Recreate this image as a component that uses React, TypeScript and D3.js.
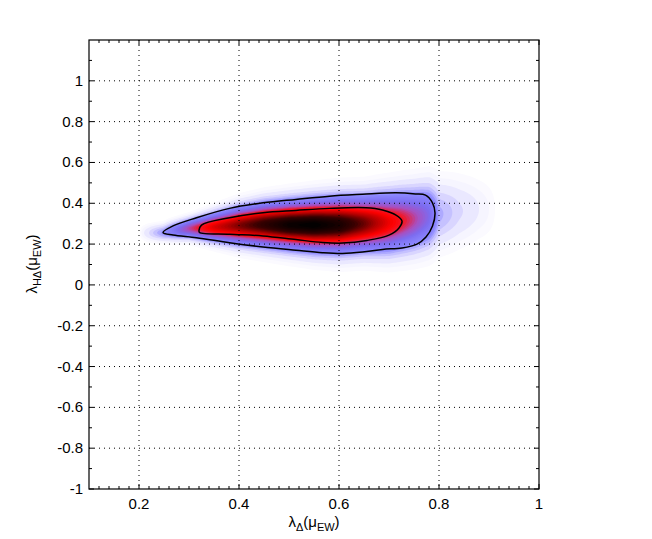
import { useEffect, useRef } from 'react';
import * as d3 from 'd3';

const xTicks = [0.2, 0.4, 0.6, 0.8, 1];
const yTicks = [-1, -0.8, -0.6, -0.4, -0.2, 0, 0.2, 0.4, 0.6, 0.8, 1];

// density ridge, read at stations along x
const ridgeX = [0.2, 0.22, 0.248, 0.26, 0.3, 0.35, 0.4, 0.45, 0.5, 0.55, 0.6, 0.65, 0.7, 0.75, 0.78, 0.8, 0.84, 0.88, 0.92];
const ridgeCenter = [0.255, 0.255, 0.256, 0.262, 0.276, 0.283, 0.291, 0.295, 0.294, 0.293, 0.294, 0.3, 0.306, 0.322, 0.337, 0.345, 0.36, 0.37, 0.37];
const ridgeSigma = [0.02, 0.022, 0.022, 0.024, 0.027, 0.038, 0.049, 0.056, 0.061, 0.066, 0.07, 0.071, 0.078, 0.082, 0.085, 0.085, 0.085, 0.08, 0.08];
const ridgePeak = [0, 0.04, 0.11, 0.15, 0.36, 0.58, 0.73, 0.86, 0.97, 1, 0.93, 0.76, 0.55, 0.37, 0.25, 0.09, 0.045, 0.02, 0];

// 95% and 68% contours
const outerContour = [
  [0.248, 0.256], [0.268, 0.289], [0.315, 0.329], [0.381, 0.375], [0.448, 0.402], [0.514, 0.419],
  [0.581, 0.435], [0.647, 0.444], [0.714, 0.451], [0.753, 0.446], [0.773, 0.44], [0.787, 0.402],
  [0.792, 0.352], [0.787, 0.289], [0.774, 0.235], [0.756, 0.2], [0.726, 0.181], [0.687, 0.174],
  [0.647, 0.161], [0.607, 0.154], [0.567, 0.158], [0.514, 0.17], [0.448, 0.186], [0.381, 0.207],
  [0.315, 0.231], [0.268, 0.244]
];
const innerContour = [
  [0.32, 0.267], [0.325, 0.293], [0.381, 0.329], [0.448, 0.354], [0.514, 0.365], [0.581, 0.375],
  [0.654, 0.378], [0.687, 0.367], [0.714, 0.342], [0.726, 0.313], [0.72, 0.279], [0.7, 0.244],
  [0.656, 0.218], [0.607, 0.205], [0.567, 0.208], [0.514, 0.222], [0.448, 0.24], [0.381, 0.248],
  [0.321, 0.257]
];

const colorStops = [0, 0.02, 0.06, 0.12, 0.24, 0.34, 0.44, 0.52, 0.66, 0.82, 1];
const colorValues = ['#ffffff', '#f3f1ff', '#d0ccff', '#8c88ff', '#7c6cf0', '#a850c0', '#f01828', '#ff0000', '#b00000', '#3a0000', '#000000'];

const FONT = '"Liberation Sans", Arial, Helvetica, sans-serif';

const App = () => {
  const svgRef = useRef(null);

  useEffect(() => {
    const width = 652;
    const height = 539;
    const svg = d3.select(svgRef.current);
    svg.selectAll('*').remove();
    svg.attr('width', width).attr('height', height);

    const x = d3.scaleLinear().domain([0.1, 1]).range([89, 539]);
    const y = d3.scaleLinear().domain([-1, 1.2]).range([489, 40]);

    const center = d3.scaleLinear().domain(ridgeX).range(ridgeCenter).clamp(true);
    const sigma = d3.scaleLinear().domain(ridgeX).range(ridgeSigma).clamp(true);
    const peak = d3.scaleLinear().domain(ridgeX).range(ridgePeak).clamp(true);

    const color = d3.scaleLinear<string>().domain(colorStops).range(colorValues).interpolate(d3.interpolateRgb);

    // density raster
    const cell = 1.5;
    const px0 = 120, py0 = 140;
    const nx = Math.round((500 - px0) / cell);
    const ny = Math.round((290 - py0) / cell);
    const values = new Array(nx * ny);
    for (let j = 0; j < ny; j++) {
      const vy = y.invert(py0 + (j + 0.5) * cell);
      for (let i = 0; i < nx; i++) {
        const vx = x.invert(px0 + (i + 0.5) * cell);
        const d = (vy - center(vx)) / sigma(vx);
        values[j * nx + i] = peak(vx) * Math.exp(-0.5 * d * d);
      }
    }

    const thresholds = [0.004, 0.01].concat(d3.range(0.02, 1, 0.02));
    const bands = d3.contours().size([nx, ny]).thresholds(thresholds)(values);
    const proj = d3.geoTransform({
      point(a, b) { this.stream.point(px0 + a * cell, py0 + b * cell); }
    });
    const geo = d3.geoPath(proj);

    svg.append('g')
      .selectAll('path')
      .data(bands)
      .join('path')
      .attr('d', geo)
      .attr('fill', (d, k) => color(Math.min(1, d.value + (thresholds[k + 1] ? (thresholds[k + 1] - d.value) / 2 : 0.01))))
      .attr('stroke', 'none');

    // contour lines
    const line = d3.line().x(d => x(d[0])).y(d => y(d[1])).curve(d3.curveCatmullRomClosed.alpha(0.5));
    svg.append('path').attr('d', line(outerContour)).attr('fill', 'none').attr('stroke', '#000').attr('stroke-width', 1.5);
    svg.append('path').attr('d', line(innerContour)).attr('fill', 'none').attr('stroke', '#000').attr('stroke-width', 1.5);

    // dotted grid
    const grid = svg.append('g').attr('stroke', '#000').attr('stroke-width', 1).attr('stroke-dasharray', '1,4');
    xTicks.filter(v => v < 1).forEach(v => {
      grid.append('line').attr('x1', x(v)).attr('x2', x(v)).attr('y1', 40).attr('y2', 489);
    });
    yTicks.filter(v => v > -1).forEach(v => {
      grid.append('line').attr('x1', 89).attr('x2', 539).attr('y1', y(v)).attr('y2', y(v));
    });

    // ticks (inward, both sides)
    const ticks = svg.append('g').attr('stroke', '#000').attr('stroke-width', 1);
    const xMinor = d3.range(0.12, 1, 0.02).filter(v => Math.abs(v * 5 - Math.round(v * 5)) > 1e-6);
    const yMinor = d3.range(-0.9, 1.2, 0.2);
    [...xTicks.map(v => [v, 5]), ...xMinor.map(v => [v, 3])].forEach(([v, len]) => {
      ticks.append('line').attr('x1', x(v)).attr('x2', x(v)).attr('y1', 489).attr('y2', 489 - len);
      ticks.append('line').attr('x1', x(v)).attr('x2', x(v)).attr('y1', 40).attr('y2', 40 + len);
    });
    [...yTicks.map(v => [v, 5]), ...yMinor.map(v => [v, 3])].forEach(([v, len]) => {
      ticks.append('line').attr('x1', 89).attr('x2', 89 + len).attr('y1', y(v)).attr('y2', y(v));
      ticks.append('line').attr('x1', 539).attr('x2', 539 - len).attr('y1', y(v)).attr('y2', y(v));
    });

    // box
    svg.append('rect').attr('x', 89).attr('y', 40).attr('width', 450).attr('height', 449)
      .attr('fill', 'none').attr('stroke', '#000').attr('stroke-width', 1.2);

    // tick labels
    const labels = svg.append('g').attr('font-family', FONT).attr('font-size', 15).attr('fill', '#000');
    xTicks.forEach(v => {
      labels.append('text').attr('x', x(v)).attr('y', 509).attr('text-anchor', 'middle').text(d3.format('~g')(v));
    });
    yTicks.forEach(v => {
      labels.append('text').attr('x', 83).attr('y', y(v) + 5).attr('text-anchor', 'end').text(String(v));
    });

    // axis titles
    const xt = svg.append('text').attr('x', 314).attr('y', 527).attr('text-anchor', 'middle')
      .attr('font-family', FONT).attr('font-size', 15);
    xt.append('tspan').text('λ');
    xt.append('tspan').attr('dy', 4).attr('font-size', 11).text('Δ');
    xt.append('tspan').attr('dy', -4).text('(μ');
    xt.append('tspan').attr('dy', 4).attr('font-size', 11).text('EW');
    xt.append('tspan').attr('dy', -4).text(')');

    const yt = svg.append('text').attr('transform', 'translate(37,264) rotate(-90)').attr('text-anchor', 'middle')
      .attr('font-family', FONT).attr('font-size', 15);
    yt.append('tspan').text('λ');
    yt.append('tspan').attr('dy', 4).attr('font-size', 11).text('HΔ');
    yt.append('tspan').attr('dy', -4).text('(μ');
    yt.append('tspan').attr('dy', 4).attr('font-size', 11).text('EW');
    yt.append('tspan').attr('dy', -4).text(')');
  }, []);

  return (
    <div style={{ position: 'absolute', left: 0, top: 0, background: '#fff' }}>
      <svg ref={svgRef} style={{ display: 'block' }} />
    </div>
  );
};

export default App;
